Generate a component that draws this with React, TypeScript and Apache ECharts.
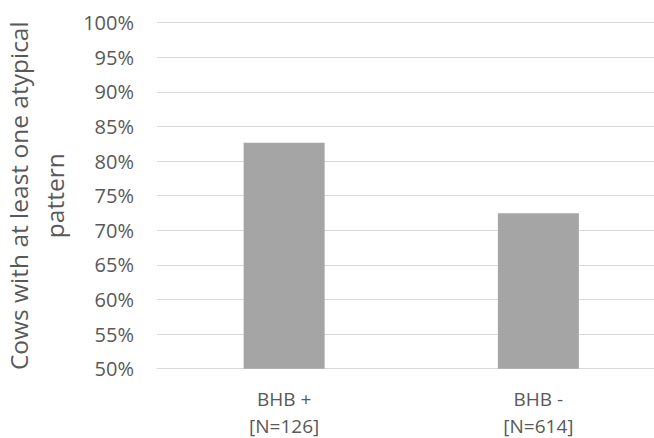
import React, { useEffect, useRef } from "react";
import * as echarts from "echarts";

const categories = ["BHB +\n[N=126]", "BHB -\n[N=614]"];
const values = [82.65, 72.45];
const yMin = 50;
const yMax = 100;
const yInterval = 5;
const yTitle = "Cows with at least one atypical\npattern";

export default function App() {
  const ref = useRef<HTMLDivElement>(null);
  useEffect(() => {
    if (!ref.current) return;
    const chart = echarts.init(ref.current, null, { renderer: "svg" });
    chart.setOption({
      animation: false,
      grid: {
        left: 157,
        top: 22.7,
        right: -11.5,
        bottom: 69.3,
        containLabel: false,
        outerBoundsMode: "none",
      },
      xAxis: {
        type: "category",
        data: categories,
        axisLine: { show: true, lineStyle: { color: "#d9d9d9", width: 1 } },
        axisTick: { show: false },
        axisLabel: {
          color: "#595959",
          fontFamily: "Open Sans",
          fontSize: 19,
          margin: 13,
          formatter: (v: string) => {
            const parts = v.split("\n");
            return `{a|${parts[0]}}\n{b|${parts[1]}}`;
          },
          rich: {
            a: { color: "#595959", fontFamily: "Open Sans", fontSize: 19, lineHeight: 34 },
            b: { color: "#595959", fontFamily: "Open Sans", fontSize: 19, lineHeight: 20 },
          },
        },
      },
      yAxis: {
        type: "value",
        min: yMin,
        max: yMax,
        interval: yInterval,
        name: yTitle,
        nameLocation: "middle",
        nameGap: 82,
        nameRotate: 90,
        nameTextStyle: {
          color: "#595959",
          fontFamily: "Open Sans",
          fontSize: 24.5,
          lineHeight: 36,
        },
        axisLine: { show: false },
        axisTick: { show: false },
        splitLine: { lineStyle: { color: "#d9d9d9", width: 1 } },
        axisLabel: {
          color: "#595959",
          fontFamily: "Open Sans",
          fontSize: 20,
          margin: 23,
          formatter: "{value}%",
        },
      },
      series: [
        {
          type: "bar",
          data: values,
          barWidth: 81,
          itemStyle: { color: "#a5a5a5" },
        },
      ],
    });
    return () => chart.dispose();
  }, []);
  return <div ref={ref} style={{ width: 654, height: 438, position: "absolute", left: 0, top: 0 }} />;
}
